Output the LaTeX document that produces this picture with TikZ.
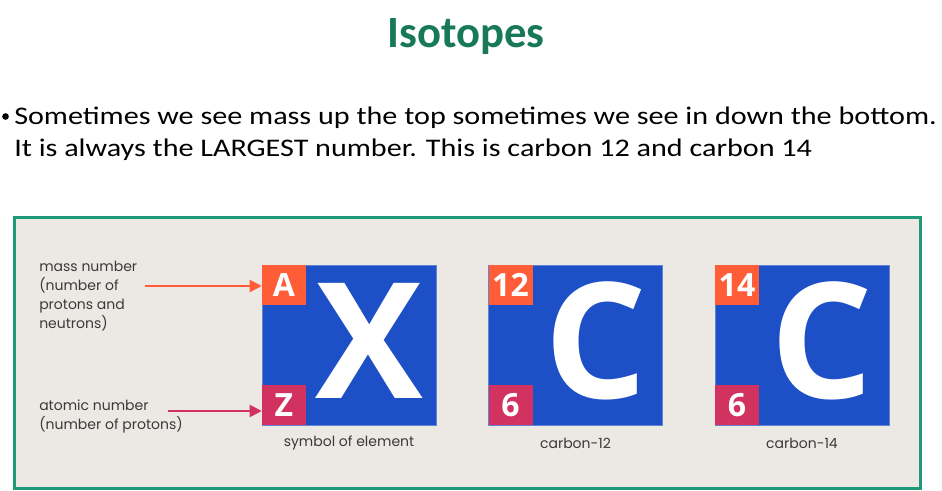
\documentclass[tikz,border=0pt]{standalone}
\usepackage{fontspec}
\setmainfont{Carlito}
\newfontfamily\labfont{Poppins}
\newfontfamily\symfont{Open Sans}
\usetikzlibrary{arrows.meta,positioning}
\definecolor{titlegreen}{HTML}{17785A}
\definecolor{framegreen}{HTML}{1E9A78}
\definecolor{panel}{HTML}{ECE9E4}
\definecolor{elblue}{HTML}{1D4FC6}
\definecolor{massred}{HTML}{FF5C38}
\definecolor{atomred}{HTML}{D2325F}
\definecolor{labgray}{HTML}{3A3A3A}
\tikzset{
  card/.style={fill=elblue, draw=elblue!70!white, line width=0.4pt, minimum width=130.5pt, minimum height=120pt, inner sep=0pt},
  masssq/.style={fill=massred, minimum width=33pt, minimum height=30pt, inner sep=0pt, text=white, font=\symfont\bfseries\fontsize{24}{24}\selectfont},
  atomsq/.style={masssq, fill=atomred},
  big/.style={text=white, inner sep=0pt, text depth=0pt, font=\symfont\bfseries\fontsize{121}{121}\selectfont},
  caption/.style={text=labgray, font=\labfont\fontsize{10.5}{12}\selectfont},
  side/.style={text=labgray, align=left, inner sep=0pt, font=\labfont\fontsize{10.5}{14.25}\selectfont},
  pointer/.style={line width=1.5pt, -{Triangle[length=9pt,width=9pt]}},
  slidetext/.style={anchor=base west, inner sep=0pt, font=\fontsize{19}{19}\selectfont},
}
\begin{document}
\begin{tikzpicture}[x=0.75pt,y=-0.75pt]
\useasboundingbox (0,0) rectangle (942,491);
% heading and bullet
\node[anchor=base, inner sep=0pt, text=titlegreen, font=\bfseries\fontsize{33.5}{33.5}\selectfont] (title) at (466,48) {Isotopes};
\node[circle, fill=black, inner sep=0pt, minimum size=5pt] (dot) at (5.5,116.5) {};
\node[slidetext] (line1) at (14,125) {\scalebox{1.19}[1]{Sometimes we see mass up the top sometimes we see in down the bottom.}};
\node[slidetext] (line2) at (14,157) {\scalebox{1.19}[1]{It is always the LARGEST number. This is carbon 12 and carbon 14}};
% panel
\draw[draw=framegreen, fill=panel, line width=2.25pt] (14,218) rectangle (920,488);
% element cards
\foreach \n/\x/\m/\z/\s/\t in {gen/349/A/Z/X/symbol of element, c12/575.5/12/6/C/carbon-12, c14/802/14/6/C/carbon-14}{
  \node[card] (\n) at (\x,345) {};
  \node[masssq, anchor=north west] (\n-m) at (\n.north west) {\m};
  \node[atomsq, anchor=south west] (\n-z) at (\n.south west) {\z};
  \node[big, anchor=base] (\n-s) at (\x+20,398) {\s};
  \node[caption] (\n-t) at (\x,443) {\t};
}
% side labels
\node[side, anchor=north west] (masslab) at (39,261) {mass number\\(number of\\protons and\\neutrons)};
\node[side, anchor=north west] (atomlab) at (39,400) {atomic number\\(number of protons)};
\coordinate (masstail) at (145,286);
\coordinate (atomtail) at (168,411);
\draw[pointer, draw=massred, fill=massred] (masstail) -- (masstail -| gen-m.west);
\draw[pointer, draw=atomred, fill=atomred] (atomtail) -- (atomtail -| gen-z.west);
\end{tikzpicture}
\end{document}
